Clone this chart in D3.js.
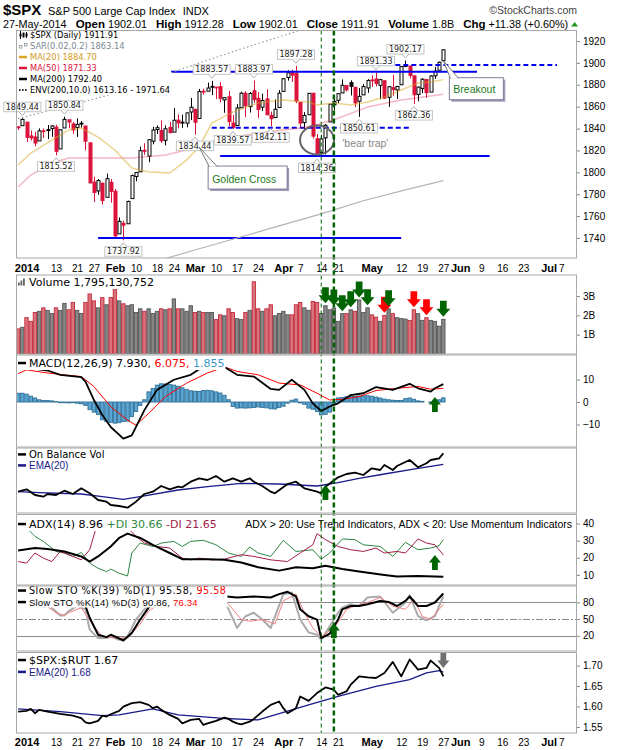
<!DOCTYPE html>
<html>
<head>
<meta charset="utf-8">
<title>$SPX Daily</title>
<script src="https://cdn.jsdelivr.net/npm/d3@7"></script>
<style>
  body { margin: 0; background: #fff; }
  svg { display: block; font-family: "Liberation Sans", Arial, sans-serif; }
</style>
</head>
<body>
<svg id="chart" width="620" height="750"></svg>
<script>
// ---------- data ----------
const holidays = ['01-01', '01-20', '02-17', '04-18', '05-26', '07-04'];
const prevClose = 1841.40;

// daily candles, 30-Dec-2013 .. 27-May-2014
const opens = [1841.47, 1842.61,
  1845.86, 1833.21, 1832.31, 1828.71, 1837.90, 1839.00, 1840.06, 1841.26, 1821.36, 1840.52, 1847.99, 1844.23, 1841.05, 1844.71, 1842.29, 1826.96, 1791.03, 1783.00, 1790.15, 1777.17, 1790.88,
  1782.68, 1743.82, 1753.38, 1752.99, 1776.01, 1796.20, 1800.45, 1820.12, 1814.82, 1828.46, 1839.03, 1838.22, 1829.24, 1841.07, 1836.78, 1847.66, 1845.79, 1844.90, 1855.12,
  1857.68, 1849.23, 1874.05, 1874.18, 1878.52, 1877.86, 1878.26, 1866.15, 1869.06, 1845.07, 1842.81, 1858.92, 1872.25, 1860.09, 1874.53, 1867.67, 1859.48, 1867.09, 1852.11, 1850.07, 1859.16,
  1873.96, 1886.61, 1891.43, 1890.25, 1863.92, 1845.48, 1852.64, 1872.28, 1830.65, 1818.18, 1831.45, 1846.01, 1861.73, 1865.79, 1872.57, 1879.32, 1881.97, 1877.72, 1865.00, 1870.78, 1877.10,
  1884.39, 1885.30, 1879.45, 1883.69, 1868.53, 1877.39, 1875.27, 1880.03, 1896.75, 1897.13, 1888.16, 1871.19, 1876.66, 1884.88, 1873.34, 1888.19, 1893.32, 1902.01];
const highs = [1842.47, 1849.44,
  1845.86, 1838.24, 1837.16, 1840.10, 1840.02, 1843.23, 1843.15, 1843.45, 1839.26, 1850.84, 1847.99, 1846.04, 1849.31, 1846.87, 1842.29, 1826.96, 1795.98, 1793.87, 1790.15, 1798.77, 1793.88,
  1784.83, 1758.73, 1755.79, 1774.06, 1798.03, 1799.94, 1823.54, 1826.55, 1830.25, 1841.65, 1842.87, 1847.50, 1842.79, 1846.13, 1858.71, 1852.91, 1852.65, 1854.53, 1867.92,
  1857.68, 1876.23, 1876.53, 1881.94, 1883.57, 1877.87, 1882.35, 1868.38, 1874.40, 1852.44, 1862.30, 1873.76, 1874.14, 1873.49, 1883.97, 1873.34, 1871.87, 1875.92, 1855.55, 1866.63, 1875.18,
  1885.84, 1893.17, 1893.80, 1897.28, 1864.04, 1854.95, 1872.43, 1872.53, 1835.07, 1834.19, 1844.02, 1862.31, 1869.63, 1871.89, 1884.89, 1879.75, 1884.06, 1877.72, 1877.01, 1880.60, 1885.20,
  1888.59, 1891.33, 1885.51, 1883.69, 1878.83, 1889.07, 1878.57, 1897.13, 1902.17, 1897.13, 1888.16, 1878.28, 1886.00, 1884.88, 1888.80, 1896.33, 1901.26, 1912.28];
const lows = [1838.77, 1842.41,
  1827.74, 1829.13, 1823.73, 1828.71, 1831.40, 1830.38, 1832.43, 1815.52, 1821.36, 1840.52, 1840.30, 1835.23, 1832.38, 1840.88, 1820.06, 1790.29, 1772.88, 1779.49, 1770.45, 1777.17, 1772.26,
  1739.66, 1743.82, 1737.92, 1752.99, 1776.01, 1791.83, 1800.41, 1815.97, 1809.22, 1825.59, 1835.01, 1826.99, 1824.58, 1835.60, 1836.78, 1840.19, 1840.66, 1841.13, 1847.67,
  1834.44, 1849.23, 1871.11, 1874.18, 1870.56, 1867.04, 1863.88, 1854.38, 1841.86, 1839.57, 1842.81, 1858.92, 1850.35, 1854.63, 1863.46, 1849.69, 1855.96, 1852.56, 1842.11, 1850.07, 1859.16,
  1873.96, 1883.79, 1882.65, 1863.26, 1841.48, 1837.49, 1852.38, 1830.87, 1814.36, 1815.80, 1816.29, 1846.01, 1856.72, 1863.18, 1872.57, 1873.91, 1870.24, 1859.70, 1850.61, 1870.78, 1872.69,
  1878.04, 1878.50, 1866.77, 1867.72, 1859.79, 1870.05, 1867.02, 1880.03, 1896.06, 1885.77, 1862.36, 1864.82, 1872.42, 1868.14, 1873.34, 1885.39, 1893.32, 1902.01];
const closes = [1841.07, 1848.36,
  1831.98, 1831.37, 1826.77, 1837.88, 1837.49, 1838.13, 1842.37, 1819.20, 1838.88, 1848.38, 1845.89, 1838.70, 1843.80, 1844.86, 1828.46, 1790.29, 1781.56, 1792.50, 1774.20, 1794.19, 1782.59,
  1741.89, 1755.20, 1751.64, 1773.43, 1797.02, 1799.84, 1819.75, 1819.26, 1829.83, 1838.63, 1840.76, 1828.75, 1839.78, 1836.25, 1847.61, 1845.12, 1845.16, 1854.29, 1859.45,
  1845.73, 1873.91, 1873.81, 1877.03, 1878.04, 1877.17, 1867.63, 1868.20, 1846.34, 1841.13, 1858.83, 1872.25, 1860.77, 1872.01, 1866.52, 1857.44, 1865.62, 1852.56, 1849.04, 1857.62, 1872.34,
  1885.52, 1890.90, 1888.77, 1865.09, 1845.04, 1851.96, 1872.18, 1833.08, 1815.69, 1830.61, 1842.98, 1862.31, 1864.85, 1871.89, 1879.55, 1875.39, 1878.61, 1863.40, 1869.43, 1878.33, 1883.95,
  1883.68, 1881.14, 1884.66, 1867.72, 1878.21, 1875.63, 1878.48, 1896.65, 1897.45, 1888.53, 1870.85, 1877.86, 1885.08, 1872.83, 1888.03, 1892.49, 1900.53, 1911.91];
// volume, billions of shares
const volumes = [1.30, 1.38,
  1.88, 1.69, 2.15, 2.21, 2.39, 2.26, 2.10, 2.39, 2.26, 2.62, 2.29, 2.67, 2.26, 2.10, 2.67, 3.11, 2.75, 2.39, 2.92, 2.55, 2.92,
  3.37, 2.75, 2.60, 2.50, 2.55, 2.15, 2.34, 2.21, 2.34, 2.10, 2.21, 2.34, 2.29, 2.34, 2.85, 2.34, 2.34, 2.21, 2.50,
  2.15, 2.21, 2.15, 2.15, 2.15, 1.78, 2.03, 1.98, 2.34, 2.15, 1.83, 1.78, 2.15, 2.26, 3.74, 2.34, 2.21, 2.34, 2.55, 1.98, 2.10,
  2.21, 2.03, 2.03, 2.55, 2.67, 2.39, 2.26, 2.72, 2.67, 2.10, 2.50, 2.29, 2.38, 1.69, 2.09, 2.09, 2.29, 2.21, 2.80, 2.15, 2.39,
  2.03, 1.91, 1.69, 2.00, 2.34, 2.09, 1.88, 1.83, 1.81, 1.74, 2.29, 2.09, 1.74, 1.88, 1.74, 1.69, 1.44, 1.795];
// MACD histogram, one bar per session
const macdHist = [3.9, 3.9,
  3.5, 2.6, 1.8, 1.0, 0.7, 0.7, 0.5, 0.2, -0.3, -0.3, -0.4, -0.3, -0.5, -0.8, -1.5, -3.4, -4.5, -5.5, -7.9, -8.7, -9.0,
  -9.4, -9.2, -8.7, -8.5, -6.5, -4.2, -1.5, 1.0, 4.5, 6.0, 7.5, 8.1, 8.0, 7.8, 7.5, 7.0, 6.3, 5.6, 5.0,
  4.8, 4.7, 5.1, 5.2, 5.0, 4.5, 4.0, 3.0, 1.0, -2.0, -2.7, -2.6, -2.7, -2.6, -2.4, -2.2, -2.4, -2.6, -3.0, -3.1, -2.5,
  -1.9, -0.5, 0.8, 1.3, -0.4, -1.0, -2.7, -3.2, -4.2, -5.7, -5.5, -4.5, -1.2, 1.8, 2.0, 2.3, 2.5, 2.5, 2.7, 2.8, 2.8,
  2.6, 2.2, 1.8, 1.3, 1.0, 0.8, 0.7, 0.7, 1.5, 1.8, 1.2, 0.5, 0.3, 0.0, -0.4, 0.4, 1.0, 1.855];

// overlays and indicators, [session, value]
const ma20 = [['12-30', 1806.7], ['01-03', 1817.6], ['01-10', 1829.5], ['01-16', 1838.6], ['01-22', 1840.5], ['01-28', 1832.2], ['02-03', 1820.4], ['02-07', 1803.9], ['02-13', 1800.3], ['02-21', 1799.4], ['02-27', 1811.2], ['03-04', 1823.1], ['03-07', 1845.0], ['03-14', 1855.0], ['03-24', 1863.3], ['04-01', 1866.0], ['04-09', 1864.2], ['04-11', 1861.5], ['04-17', 1863.3], ['04-24', 1861.5], ['04-30', 1864.2], ['05-06', 1868.8], ['05-12', 1875.2], ['05-16', 1881.6], ['05-21', 1882.5], ['05-27', 1884.70]];
const ma50 = [['12-30', 1786.6], ['01-03', 1797.5], ['01-10', 1808.5], ['01-16', 1813.1], ['01-28', 1813.1], ['02-07', 1813.1], ['02-20', 1815.8], ['03-04', 1823.1], ['03-14', 1832.2], ['03-26', 1836.8], ['04-09', 1841.4], ['04-17', 1848.0], ['04-30', 1859.6], ['05-12', 1866.0], ['05-27', 1871.33]];
const ma200 = [['02-18', 1719], ['03-03', 1729], ['03-17', 1740], ['03-31', 1751], ['04-14', 1762], ['04-29', 1774], ['05-13', 1784], ['05-27', 1792.40]];
const envUpper = [['12-30', 1849], ['01-30', 1870], ['02-27', 1896], ['03-19', 1914], ['04-08', 1931], ['05-27', 1971.64]];
const macdLine = [['12-30', 15.8], ['01-03', 15.1], ['01-09', 14.0], ['01-14', 12.1], ['01-22', 11.1], ['01-23', 9.1], ['01-27', 0.9], ['01-29', -5.8], ['01-31', -11.1], ['02-05', -16.3], ['02-07', -14.8], ['02-12', -3.6], ['02-18', 5.4], ['02-24', 9.9], ['02-28', 12.1], ['03-05', 15.8], ['03-07', 17.5], ['03-12', 15.6], ['03-17', 12.1], ['03-21', 11.3], ['03-27', 5.8], ['03-31', 5.4], ['04-03', 9.9], ['04-08', 5.4], ['04-10', -0.6], ['04-14', -4.0], ['04-16', -2.0], ['04-21', -0.6], ['04-24', 3.1], ['04-29', 3.9], ['05-02', 6.6], ['05-08', 5.4], ['05-14', 8.1], ['05-16', 6.1], ['05-21', 4.6], ['05-22', 6.1], ['05-27', 7.930]];
const macdSignal = [['12-30', 12.6], ['01-02', 14.3], ['01-09', 12.9], ['01-22', 11.3], ['01-27', 6.9], ['01-31', -2.1], ['02-06', -8.1], ['02-10', -10.3], ['02-13', -5.1], ['02-20', 2.4], ['02-27', 8.4], ['03-06', 12.9], ['03-12', 15.6], ['03-17', 13.6], ['03-24', 12.1], ['03-31', 8.4], ['04-07', 7.6], ['04-11', 3.9], ['04-16', 0.9], ['04-22', 1.2], ['04-28', 2.4], ['05-02', 5.1], ['05-09', 6.1], ['05-16', 6.9], ['05-21', 5.7], ['05-27', 6.075]];
const obv = [['12-30', 9.15], ['01-02', 10.35], ['01-06', 7.5], ['01-08', 6.65], ['01-09', 8.0], ['01-13', 7.5], ['01-15', 9.65], ['01-17', 8.0], ['01-22', 10.85], ['01-24', 8.35], ['01-28', 5.0], ['01-30', 4.15], ['01-31', 2.5], ['02-04', 2.0], ['02-06', 1.15], ['02-10', 4.15], ['02-12', 8.0], ['02-14', 9.15], ['02-19', 12.0], ['02-21', 10.35], ['02-25', 11.65], ['02-26', 11.35], ['02-28', 14.15], ['03-04', 15.85], ['03-06', 15.0], ['03-10', 17.0], ['03-12', 14.15], ['03-14', 15.85], ['03-18', 14.15], ['03-20', 15.85], ['03-21', 14.15], ['03-25', 12.0], ['03-27', 9.15], ['03-28', 8.35], ['04-02', 13.0], ['04-04', 14.15], ['04-08', 10.85], ['04-11', 9.15], ['04-14', 8.35], ['04-15', 11.65], ['04-21', 16.35], ['04-23', 18.0], ['04-25', 18.65], ['04-29', 17.5], ['05-01', 20.85], ['05-05', 20.0], ['05-06', 22.5], ['05-08', 20.0], ['05-09', 22.0], ['05-14', 25.0], ['05-16', 21.35], ['05-20', 23.35], ['05-21', 25.0], ['05-23', 25.85], ['05-27', 28.35]];
const obvEma = [['12-30', 9.15], ['01-07', 8.65], ['01-22', 8.0], ['01-29', 6.65], ['02-05', 5.35], ['02-11', 6.65], ['02-25', 10.0], ['03-06', 11.65], ['03-18', 13.35], ['03-31', 13.0], ['04-11', 12.0], ['04-21', 13.65], ['04-28', 15.85], ['05-06', 18.0], ['05-16', 20.85], ['05-27', 22.85]];
const adx = [['12-30', 24.3], ['01-06', 25.7], ['01-09', 25.1], ['01-15', 23.7], ['01-22', 20.8], ['01-24', 17.8], ['01-28', 20.8], ['01-31', 26.6], ['02-04', 31.6], ['02-06', 34.1], ['02-11', 31.6], ['02-14', 27.6], ['02-21', 22.8], ['02-26', 19.2], ['03-06', 19.2], ['03-12', 18.8], ['03-18', 17.2], ['03-24', 14.5], ['03-31', 12.5], ['04-04', 14.5], ['04-10', 13.9], ['04-15', 15.3], ['04-22', 13.4], ['04-28', 12.0], ['05-06', 10.0], ['05-09', 9.0], ['05-16', 9.4], ['05-27', 8.96]];
const plusDI = [['12-30', 41], ['01-02', 37.5], ['01-06', 32.5], ['01-08', 29.6], ['01-13', 23.7], ['01-15', 22.8], ['01-17', 20.8], ['01-22', 23.1], ['01-24', 16.9], ['01-28', 13.9], ['01-30', 11.9], ['01-31', 13.4], ['02-04', 11.0], ['02-06', 9.4], ['02-07', 22.8], ['02-11', 28.6], ['02-14', 26.6], ['02-19', 28.6], ['02-24', 29.6], ['02-26', 26.6], ['02-28', 29.6], ['03-05', 30.2], ['03-10', 27.6], ['03-13', 22.8], ['03-18', 20.8], ['03-20', 26.3], ['03-24', 22.8], ['03-27', 20.8], ['04-01', 30.2], ['04-04', 23.7], ['04-10', 24.7], ['04-14', 19.2], ['04-16', 22.8], ['04-22', 31.0], ['04-25', 30.6], ['04-29', 27.6], ['05-05', 26.6], ['05-08', 20.8], ['05-13', 29.0], ['05-16', 24.7], ['05-21', 25.7], ['05-23', 27.1], ['05-27', 30.66]];
const minusDI = [['12-30', 17.8], ['01-02', 16.9], ['01-06', 22.8], ['01-08', 19.8], ['01-10', 17.8], ['01-14', 23.7], ['01-17', 20.8], ['01-22', 18.8], ['01-24', 24.7], ['01-28', 41.4], ['01-29', 40.4], ['01-30', 36.5], ['02-03', 38.4], ['02-04', 36.5], ['02-06', 37.5], ['02-10', 32.5], ['02-12', 28.6], ['02-18', 26.6], ['02-21', 25.7], ['02-26', 19.8], ['02-28', 18.8], ['03-04', 19.8], ['03-07', 18.8], ['03-12', 19.2], ['03-18', 21.8], ['03-21', 20.8], ['03-27', 18.8], ['04-02', 17.8], ['04-07', 22.8], ['04-10', 27.6], ['04-11', 34.1], ['04-15', 30.6], ['04-21', 26.6], ['04-24', 24.7], ['04-29', 23.7], ['05-02', 25.7], ['05-06', 22.8], ['05-09', 23.7], ['05-13', 22.8], ['05-16', 31.0], ['05-20', 28.6], ['05-22', 27.6], ['05-27', 21.65]];
const stoK39 = [['12-30', 92], ['01-06', 90], ['01-13', 88], ['01-17', 90], ['01-22', 88], ['01-23', 73.3], ['01-24', 52.2], ['01-28', 21.8], ['01-30', 17.6], ['01-31', 21.8], ['02-03', 18.7], ['02-05', 11.5], ['02-07', 24.9], ['02-11', 49.0], ['02-13', 70.4], ['02-18', 85], ['02-21', 88], ['03-03', 90], ['03-10', 92], ['03-17', 88.5], ['03-21', 90.3], ['03-27', 88.5], ['03-31', 94.5], ['04-02', 98.7], ['04-04', 90.3], ['04-07', 67.3], ['04-09', 55.0], ['04-11', 49.0], ['04-14', 15.8], ['04-16', 23.6], ['04-21', 49.0], ['04-22', 67.3], ['04-24', 73.3], ['04-28', 73.3], ['04-30', 76.4], ['05-05', 82.4], ['05-07', 80.5], ['05-09', 73.3], ['05-13', 82.4], ['05-14', 90.3], ['05-16', 73.3], ['05-20', 73.3], ['05-22', 79.5], ['05-27', 95.58]];
const stoK14 = [['12-30', 85], ['01-08', 80], ['01-10', 70.4], ['01-14', 56.4], ['01-15', 56.4], ['01-16', 64.2], ['01-21', 73.3], ['01-23', 67.3], ['01-24', 30.9], ['01-28', 15.8], ['01-30', 15.8], ['01-31', 18.7], ['02-04', 12.7], ['02-06', 18.7], ['02-10', 49.0], ['02-12', 67.3], ['02-13', 73.3], ['02-19', 86], ['02-25', 88], ['03-03', 85], ['03-07', 92], ['03-12', 80], ['03-13', 67.3], ['03-17', 34.0], ['03-19', 55.0], ['03-21', 61.2], ['03-25', 49.0], ['03-27', 34.0], ['04-01', 94.5], ['04-03', 97.6], ['04-07', 49.0], ['04-09', 26.0], ['04-11', 21.8], ['04-14', 12.7], ['04-16', 36.9], ['04-21', 61.2], ['04-22', 70.4], ['04-24', 76.4], ['04-28', 73.3], ['04-30', 88.5], ['05-05', 90.3], ['05-08', 61.2], ['05-13', 79.5], ['05-14', 92.7], ['05-16', 55.0], ['05-20', 47.8], ['05-22', 55.0], ['05-27', 90.86]];
const stoD3 = [['12-30', 82], ['01-09', 72], ['01-13', 61.2], ['01-15', 56.4], ['01-16', 61.2], ['01-22', 70.4], ['01-27', 36.9], ['01-29', 18.7], ['01-31', 17.0], ['02-04', 15.8], ['02-06', 15.8], ['02-11', 41.0], ['02-13', 64.2], ['02-19', 80], ['02-26', 87], ['03-05', 86], ['03-11', 88], ['03-13', 76.4], ['03-18', 49.0], ['03-20', 46.0], ['03-25', 49.0], ['03-28', 41.0], ['04-01', 82.4], ['04-04', 94.5], ['04-08', 61.2], ['04-10', 34.0], ['04-14', 18.7], ['04-17', 34.0], ['04-22', 55.0], ['04-23', 67.3], ['04-25', 73.3], ['04-30', 79.5], ['05-05', 88.5], ['05-08', 73.3], ['05-13', 67.3], ['05-15', 85.5], ['05-19', 55.0], ['05-21', 49.0], ['05-27', 76.34]];
const spxRut = [['12-30', 1.5877], ['01-02', 1.5893], ['01-03', 1.5942], ['01-06', 1.5836], ['01-07', 1.5918], ['01-09', 1.5877], ['01-14', 1.5820], ['01-17', 1.5778], ['01-22', 1.5714], ['01-23', 1.5615], ['01-24', 1.5590], ['01-28', 1.5648], ['01-29', 1.5778], ['01-30', 1.5754], ['01-31', 1.5812], ['02-04', 1.5893], ['02-05', 1.5999], ['02-07', 1.6083], ['02-11', 1.6107], ['02-13', 1.6041], ['02-14', 1.5960], ['02-18', 1.5999], ['02-19', 1.5918], ['02-21', 1.5795], ['02-25', 1.5697], ['02-26', 1.5590], ['02-28', 1.5672], ['03-04', 1.5697], ['03-05', 1.5550], ['03-06', 1.5590], ['03-10', 1.5648], ['03-12', 1.5729], ['03-13', 1.5697], ['03-14', 1.5631], ['03-17', 1.5590], ['03-18', 1.5566], ['03-20', 1.5631], ['03-21', 1.5697], ['03-25', 1.5877], ['03-27', 1.6041], ['03-31', 1.6123], ['04-01', 1.5960], ['04-02', 1.5836], ['04-04', 1.5960], ['04-07', 1.6245], ['04-09', 1.6139], ['04-11', 1.6328], ['04-15', 1.6466], ['04-17', 1.6410], ['04-21', 1.6287], ['04-23', 1.6368], ['04-24', 1.6533], ['04-28', 1.6737], ['04-30', 1.6713], ['05-02', 1.6697], ['05-06', 1.6820], ['05-08', 1.7090], ['05-12', 1.6737], ['05-14', 1.7148], ['05-16', 1.6902], ['05-20', 1.6943], ['05-21', 1.7123], ['05-23', 1.6943], ['05-27', 1.6735]];
const spxRutEma = [['12-30', 1.5942], ['01-14', 1.5877], ['01-29', 1.5778], ['02-04', 1.5795], ['02-14', 1.5942], ['02-25', 1.5795], ['03-11', 1.5714], ['03-24', 1.5672], ['03-28', 1.5795], ['04-09', 1.6041], ['04-21', 1.6245], ['05-02', 1.6492], ['05-14', 1.6656], ['05-20', 1.6820], ['05-23', 1.6877], ['05-27', 1.6840]];

// annotations
const peakLabels = [['12-31', 'above'], ['01-15', 'above'], ['01-13', 'below'], ['02-05', 'below'], ['03-03', 'below'], ['03-07', 'above'], ['03-14', 'below'], ['03-21', 'above'], ['03-27', 'below'], ['04-04', 'above'], ['04-11', 'below'], ['04-28', 'below'], ['05-02', 'above'], ['05-13', 'above'], ['05-15', 'below']];
const trendLines = [
  { from: '02-10', to: '06-06', value: 1892, dashed: false },
  { from: '04-29', to: '07-03', value: 1898, dashed: true },
  { from: '03-07', to: '05-14', value: 1840.7, dashed: true },
  { from: '03-11', to: '06-11', value: 1815, dashed: false },
  { from: '01-28', to: '05-12', value: 1740, dashed: false },
];
const markerDays = [{ day: '04-14', width: 1, dash: '4,3' }, { day: '04-17', width: 2.5, dash: '5,3' }];
const volumeArrows = [['04-15', 'g'], ['04-17', 'g'], ['04-22', 'g'], ['04-24', 'g'], ['04-28', 'g'], ['04-30', 'g'], ['05-06', 'r'], ['05-07', 'g'], ['05-15', 'r'], ['05-20', 'r'], ['05-27', 'g']];
const panelArrows = [
  { panel: 'macd', day: '05-22', value: 2.2, dir: 'up', color: '#006400' },
  { panel: 'obv', day: '04-15', value: 12.5, dir: 'up', color: '#006400' },
  { panel: 'adx', day: '05-22', value: 21.6, dir: 'up', color: '#006400' },
  { panel: 'sto', day: '04-17', value: 42.8, dir: 'up', color: '#006400' },
  { panel: 'rut', day: '05-27', value: 1.694, dir: 'down', color: '#707070' },
];

// axis ticks
const xTickDays = ['01-02', '01-13', '01-21', '01-27', '02-03', '02-10', '02-18', '02-24', '03-03', '03-10', '03-17', '03-24', '04-01', '04-07', '04-14', '04-21', '05-01', '05-12', '05-19', '05-27', '06-02', '06-09', '06-16', '06-23', '07-01', '07-07'];
const xTickLabels = ['2014', '13', '21', '27', 'Feb', '10', '18', '24', 'Mar', '10', '17', '24', 'Apr', '7', '14', '21', 'May', '12', '19', '27', 'Jun', '9', '16', '23', 'Jul', '7'];
const priceTicks = [1740, 1760, 1780, 1800, 1820, 1840, 1860, 1880, 1900, 1920];
const volumeTicks = [1, 2, 3];
const macdTicks = [-10, 0, 10];
const adxTicks = [10, 20, 30, 40];
const stoTicks = [20, 50, 80];
const rutTicks = [1.55, 1.60, 1.65, 1.70];

// ---------- layout ----------
const svg = d3.select('#chart');
const last = closes.length - 1;
const fmt2 = d3.format('.2f');
const toKey = d3.utcFormat('%m-%d');
const sessions = d3.utcDays(new Date(Date.UTC(2013, 11, 30)), new Date(Date.UTC(2014, 6, 12)))
  .filter(d => d.getUTCDay() % 6 !== 0)
  .map(toKey)
  .filter(k => !holidays.includes(k));
const dayIndex = new Map(sessions.map((k, i) => [k, i]));

const left = 16;
const right = 577;
const x = d3.scaleLinear().domain([-0.5, 132.75]).range([left, right]);
const xd = k => x(dayIndex.get(k));
const crisp = v => Math.round(v) + 0.5;

const panels = {
  price: { top: 30.5, bottom: 258, domain: [1721.7, 1929.6] },
  volume: { top: 275, bottom: 354, domain: [0, 4.09] },
  macd: { top: 355, bottom: 447, domain: [-20, 20.9] },
  obv: { top: 448, bottom: 513, domain: [-1.5, 31] },
  adx: { top: 514.5, bottom: 585, domain: [4.1, 45.3] },
  sto: { top: 586, bottom: 651, domain: [-7.3, 109.1] },
  rut: { top: 652.5, bottom: 733, domain: [1.5353, 1.732] },
};
const y = {};
const layer = {};
const defs = svg.append('defs');
Object.entries(panels).forEach(([name, p]) => {
  y[name] = d3.scaleLinear().domain(p.domain).range([p.bottom, p.top]);
  defs.append('clipPath').attr('id', `clip-${name}`)
    .append('rect').attr('x', left).attr('y', p.top).attr('width', right - left).attr('height', p.bottom - p.top);
  layer[name] = svg.append('g');
});
const marksOf = name => layer[name].append('g').attr('clip-path', `url(#clip-${name})`);

const line = (name) => d3.line().x(d => xd(d[0])).y(d => y[name](d[1]));
const drawLine = (name, data, color, width, extra) => {
  const p = marksOf(name).append('path').datum(data)
    .attr('d', line(name)).attr('fill', 'none')
    .attr('stroke', color).attr('stroke-width', width).attr('stroke-linejoin', 'round');
  if (extra) extra(p);
  return p;
};

// ---------- header ----------
const head = svg.append('g');
head.append('text').attr('x', 3).attr('y', 15).attr('font-size', 15).attr('font-weight', 'bold').text('$SPX');
const nameT = head.append('text').attr('x', 48).attr('y', 14.5).attr('font-size', 11).text('S&P 500 Large Cap Index');
head.append('text').attr('x', 48 + nameT.node().getComputedTextLength() + 7).attr('y', 14.5).attr('font-size', 11).text('INDX');
head.append('text').attr('x', right).attr('y', 14).attr('text-anchor', 'end').attr('font-size', 10.5).attr('fill', '#444').text('\u00a9StockCharts.com');

const chg = closes[last] - closes[last - 1];
const infoParts = [
  ['27-May-2014', false, 0],
  ['Open', true, 9], [fmt2(opens[last]), false, 3],
  ['High', true, 9], [fmt2(highs[last]), false, 3],
  ['Low', true, 9], [fmt2(lows[last]), false, 3],
  ['Close', true, 9], [fmt2(closes[last]), false, 3],
  ['Volume', true, 9], [volumes[last].toFixed(1) + 'B', false, 3],
  ['Chg', true, 9], [`+${fmt2(chg)} (+${fmt2(chg / closes[last - 1] * 100)}%)`, false, 3],
];
let cursor = 3;
infoParts.forEach(([s, bold, gap]) => {
  cursor += gap;
  const t = head.append('text').attr('x', cursor).attr('y', 27.5)
    .attr('font-size', bold ? 11.5 : 10.8).attr('font-weight', bold ? 'bold' : null).text(s);
  cursor += t.node().getComputedTextLength();
});
head.append('path').attr('d', `M${cursor + 3},26.5L${cursor + 6.5},22L${cursor + 10},26.5Z`).attr('fill', '#1f9a1f');

// ---------- legends ----------
function drawIcon(g, kind, color, x0, yc) {
  if (kind === 'line') {
    g.append('line').attr('x1', x0).attr('x2', x0 + 8).attr('y1', yc).attr('y2', yc)
      .attr('stroke', color).attr('stroke-width', 2.5);
  } else if (kind === 'dots') {
    [0, 3, 6].forEach(d => g.append('rect').attr('x', x0 + d).attr('y', yc - 0.8).attr('width', 1.6).attr('height', 1.6).attr('fill', color));
  } else if (kind === 'sar') {
    [0, 5].forEach(d => g.append('rect').attr('x', x0 + d + 0.5).attr('y', yc - (d ? 2.5 : 0.5)).attr('width', 2.5).attr('height', 2.5)
      .attr('fill', '#fff').attr('stroke', color).attr('stroke-width', 0.8));
  } else if (kind === 'candle') {
    [[0.5, 4, 3], [3.5, 2, 5], [6.5, 3, 3]].forEach(([dx, hh, bh]) => {
      g.append('line').attr('x1', x0 + dx + 1).attr('x2', x0 + dx + 1).attr('y1', yc - hh).attr('y2', yc + hh).attr('stroke', color);
      g.append('rect').attr('x', x0 + dx).attr('y', yc - bh / 2).attr('width', 2).attr('height', bh).attr('fill', color);
    });
  } else if (kind === 'bars') {
    [[0, 3], [2.5, 5], [5, 7]].forEach(([dx, h]) => g.append('rect').attr('x', x0 + dx).attr('y', yc + 3.5 - h)
      .attr('width', 1.8).attr('height', h).attr('fill', color));
  }
}

function addLegend(parent, x0, lines) {
  const g = parent.append('g');
  const bg = g.append('rect').attr('fill', '#fff');
  const content = g.append('g');
  lines.forEach(l => {
    drawIcon(content.append('g'), l.icon, l.iconColor, x0, l.y - l.size * 0.36);
    const t = content.append('text').attr('x', x0 + 11).attr('y', l.y)
      .attr('font-family', l.family).attr('font-size', l.size)
      .attr('letter-spacing', l.spacing || null);
    l.parts.forEach(([s, c]) => t.append('tspan').attr('fill', c).text(s));
  });
  const b = content.node().getBBox();
  bg.attr('x', b.x - 1).attr('y', b.y).attr('width', b.width + 2).attr('height', b.height);
}
const DJ = '"DejaVu Sans", Verdana, sans-serif';
const LS = '"Liberation Sans", Arial, sans-serif';
const lastOf = s => s[s.length - 1][1];

// ---------- price panel ----------
const gPrice = marksOf('price');
drawLine('price', envUpper, '#9a9a9a', 1.2, p => p.attr('stroke-dasharray', '1.5,2.5'));
drawLine('price', ma200, '#b4b4b4', 1.2);
drawLine('price', ma50, '#dc143c', 1.5, p => p.attr('stroke-opacity', 0.3));
drawLine('price', ma20, '#daa520', 1.5, p => p.attr('stroke-opacity', 0.5));

const candles = closes.map((c, k) => ({ k, o: opens[k], h: highs[k], l: lows[k], c, prev: k ? closes[k - 1] : prevClose }));
const cg = gPrice.selectAll('g.candle').data(candles).enter().append('g').attr('class', 'candle');
const candleColor = d => (d.c >= d.prev ? '#000' : '#dc143c');
cg.append('line')
  .attr('x1', d => crisp(x(d.k))).attr('x2', d => crisp(x(d.k)))
  .attr('y1', d => y.price(d.h)).attr('y2', d => y.price(d.l))
  .attr('stroke', candleColor);
cg.append('rect')
  .attr('x', d => crisp(x(d.k)) - 1.5).attr('width', 3)
  .attr('y', d => y.price(Math.max(d.o, d.c)))
  .attr('height', d => Math.max(0.8, Math.abs(y.price(d.o) - y.price(d.c))))
  .attr('fill', d => (d.c < d.o ? candleColor(d) : '#fff'))
  .attr('stroke', candleColor);

trendLines.forEach(t => {
  gPrice.append('line')
    .attr('x1', xd(t.from)).attr('x2', xd(t.to))
    .attr('y1', y.price(t.value)).attr('y2', y.price(t.value))
    .attr('stroke', '#0000ee').attr('stroke-width', 2)
    .attr('stroke-dasharray', t.dashed ? '5,3' : null);
});

const gLabels = layer.price.append('g');
peakLabels.forEach(([day, pos]) => {
  const i = dayIndex.get(day);
  const v = pos === 'above' ? highs[i] : lows[i];
  const cy = y.price(v);
  const g = gLabels.append('g');
  const t = g.append('text').attr('text-anchor', 'middle')
    .attr('font-family', DJ).attr('font-size', 8).attr('fill', '#222').text(fmt2(v));
  const w = t.node().getComputedTextLength() + 4;
  const h = 9.5;
  const cx = Math.max(x(i), 3 + w / 2);
  t.attr('x', cx);
  const top = pos === 'above' ? cy - 6.5 - h : cy + 6.5;
  t.attr('y', top + 7.6);
  const edge = pos === 'above' ? top + h : top;
  const tip = pos === 'above' ? edge + 4 : edge - 4;
  g.insert('rect', 'text').attr('x', cx - w / 2).attr('y', top).attr('width', w).attr('height', h)
    .attr('fill', '#fff').attr('stroke', '#c4c4c4');
  g.insert('path', 'text').attr('d', `M${x(i) - 3.5},${edge}L${x(i)},${tip}L${x(i) + 3.5},${edge}`)
    .attr('fill', '#fff').attr('stroke', '#b0b0b0');
});

// bear trap
gPrice.append('ellipse').attr('cx', xd('04-11')).attr('cy', y.price(1829.5)).attr('rx', 17).attr('ry', 14.5)
  .attr('fill', 'none').attr('stroke', '#666').attr('stroke-width', 2);
gPrice.append('text').attr('x', xd('04-22')).attr('y', y.price(1823)).attr('font-size', 10.5).attr('fill', '#888').text("'bear trap'");

function callout(day, value, dx, dy, w, h, label) {
  const tx = xd(day);
  const ty = y.price(value);
  const bx = tx + dx;
  const by = ty + dy;
  const g = layer.price.append('g');
  g.append('rect').attr('x', bx + 2).attr('y', by + 2).attr('width', w).attr('height', h).attr('fill', '#9c9cb8');
  g.append('rect').attr('x', bx).attr('y', by).attr('width', w).attr('height', h).attr('fill', '#fff').attr('stroke', '#7c7c9c');
  g.append('path').attr('d', `M${bx + 1},${by + 0.5}L${tx},${ty}L${bx + 9},${by + 0.5}`).attr('fill', '#fff').attr('stroke', '#777');
  g.append('text').attr('x', bx + 4).attr('y', by + h - 6.5).attr('font-size', 10.5).attr('fill', '#1b7a1b').text(label);
}
callout('03-04', 1823.1, 9, 19, 79, 23, 'Golden Cross');
callout('05-27', lows[last], 6, 17, 54, 22, 'Breakout');

addLegend(layer.price, 19, [
  { y: 38, size: 8.3, family: DJ, icon: 'candle', iconColor: '#000', parts: [[`$SPX (Daily) ${fmt2(closes[last])}`, '#000']] },
  { y: 49, size: 8.3, family: DJ, icon: 'sar', iconColor: '#8a96a3', parts: [['SAR(0.02,0.2) 1863.14', '#7b8794']] },
  { y: 60, size: 8.3, family: DJ, icon: 'line', iconColor: '#daa520', parts: [[`MA(20) ${fmt2(lastOf(ma20))}`, '#d4991a']] },
  { y: 71, size: 8.3, family: DJ, icon: 'line', iconColor: '#dc143c', parts: [[`MA(50) ${fmt2(lastOf(ma50))}`, '#dc143c']] },
  { y: 82, size: 8.3, family: DJ, icon: 'line', iconColor: '#000', parts: [[`MA(200) ${fmt2(lastOf(ma200))}`, '#000']] },
  { y: 93, size: 8.3, family: DJ, icon: 'dots', iconColor: '#000', parts: [[`ENV(200,10.0) 1613.16 - ${fmt2(lastOf(envUpper))}`, '#000']] },
]);

// ---------- volume ----------
const gVol = marksOf('volume');
gVol.selectAll('rect').data(candles).enter().append('rect')
  .attr('x', d => x(d.k) - 1.7).attr('width', 3.4)
  .attr('y', d => y.volume(volumes[d.k]))
  .attr('height', d => y.volume(0) - y.volume(volumes[d.k]))
  .attr('fill', d => (d.c >= d.prev ? '#878787' : '#d9747c'))
  .attr('stroke', d => (d.c >= d.prev ? '#555' : '#c42a3c')).attr('stroke-width', 0.9);
addLegend(layer.volume, 18, [
  { y: 286, size: 11, family: DJ, icon: 'bars', iconColor: '#666', parts: [[`Volume ${d3.format(',')(1795130752)}`, '#000']] },
]);

// ---------- MACD ----------
const gMacd = marksOf('macd');
gMacd.selectAll('rect').data(macdHist).enter().append('rect')
  .attr('x', (d, k) => x(k) - 1.7).attr('width', 3.4)
  .attr('y', d => y.macd(Math.max(0, d)))
  .attr('height', d => Math.abs(y.macd(d) - y.macd(0)))
  .attr('fill', '#5aa6d4').attr('stroke', '#2f6f96').attr('stroke-width', 0.9);
drawLine('macd', macdSignal, '#ff0000', 1);
drawLine('macd', macdLine, '#000', 1.8);
addLegend(layer.macd, 18, [
  { y: 367, size: 11, family: DJ, icon: 'line', iconColor: '#000', parts: [[`MACD(12,26,9) ${lastOf(macdLine).toFixed(3)}, `, '#000'], [`${lastOf(macdSignal).toFixed(3)}, `, '#ff0000'], [macdHist[last].toFixed(3), '#3a9ad0']] },
]);

// ---------- OBV ----------
drawLine('obv', obvEma, '#1a1a8a', 1.3);
drawLine('obv', obv, '#000', 1.8);
addLegend(layer.obv, 18, [
  { y: 458, size: 10, family: DJ, icon: 'line', iconColor: '#000', parts: [['On Balance Vol', '#000']] },
  { y: 469, size: 10, family: LS, icon: 'line', iconColor: '#1a1a8a', parts: [['EMA(20)', '#1a1a8a']] },
]);

// ---------- ADX ----------
drawLine('adx', plusDI, '#2e8540', 1);
drawLine('adx', minusDI, '#a31d48', 1);
drawLine('adx', adx, '#000', 2);
addLegend(layer.adx, 18, [
  { y: 528, size: 11, family: DJ, icon: 'line', iconColor: '#000', parts: [[`ADX(14) ${fmt2(lastOf(adx))} `, '#000'], [`+DI ${fmt2(lastOf(plusDI))} `, '#2e8540'], [`-DI ${fmt2(lastOf(minusDI))}`, '#a31d48']] },
]);
const noteG = layer.adx.append('g');
const note = noteG.append('text').attr('x', 572).attr('y', 528).attr('text-anchor', 'end')
  .attr('font-size', 10.5).text('ADX > 20: Use Trend Indicators, ADX < 20: Use Momentum Indicators');
const nb = note.node().getBBox();
noteG.insert('rect', 'text').attr('x', nb.x - 1).attr('y', nb.y).attr('width', nb.width + 2).attr('height', nb.height).attr('fill', '#fff');

// ---------- Slow STO ----------
const gSto = marksOf('sto');
stoTicks.forEach(v => {
  gSto.append('line').attr('x1', left).attr('x2', right).attr('y1', crisp(y.sto(v))).attr('y2', crisp(y.sto(v)))
    .attr('stroke', '#8a8a8a').attr('stroke-dasharray', v === 50 ? '7,2,2,2' : null);
});
drawLine('sto', stoK14, '#ababab', 2);
drawLine('sto', stoD3, '#f08080', 1);
drawLine('sto', stoK39, '#000', 2);
addLegend(layer.sto, 18, [
  { y: 594, size: 9.6, spacing: 0.5, family: DJ, icon: 'line', iconColor: '#000', parts: [[`Slow STO %K(39) %D(1) ${fmt2(lastOf(stoK39))}, `, '#000'], [fmt2(lastOf(stoK39)), '#ff0000']] },
  { y: 605.5, size: 9.5, spacing: 0.2, family: LS, icon: 'line', iconColor: '#000', parts: [[`Slow STO %K(14) %D(3) ${fmt2(lastOf(stoK14))}, `, '#000'], [fmt2(lastOf(stoD3)), '#ff0000']] },
]);

// ---------- $SPX:$RUT ----------
drawLine('rut', spxRutEma, '#1a1a8a', 1.3);
drawLine('rut', spxRut, '#000', 1.8);
addLegend(layer.rut, 18, [
  { y: 664, size: 11, family: DJ, icon: 'line', iconColor: '#000', parts: [[`$SPX:$RUT ${lastOf(spxRut).toFixed(2)}`, '#000']] },
  { y: 675.5, size: 10, family: LS, icon: 'line', iconColor: '#1a1a8a', parts: [[`EMA(20) ${lastOf(spxRutEma).toFixed(2)}`, '#1a1a8a']] },
]);

// ---------- axes ----------
function rightAxis(name, values, fmt) {
  const g = svg.append('g').attr('transform', `translate(${right},0)`)
    .call(d3.axisRight(y[name]).tickValues(values).tickFormat(fmt).tickSize(3).tickPadding(3));
  g.select('.domain').remove();
  g.attr('font-family', LS).attr('font-size', 10);
  g.selectAll('line').attr('stroke', '#888');
}
rightAxis('price', priceTicks, d3.format('d'));
rightAxis('volume', volumeTicks, d => `${d}B`);
rightAxis('macd', macdTicks, d3.format('d'));
rightAxis('adx', adxTicks, d3.format('d'));
rightAxis('sto', stoTicks, d3.format('d'));
rightAxis('rut', rutTicks, d3.format('.2f'));

[272, 746].forEach(base => {
  const g = svg.append('g').attr('transform', `translate(0,${base})`)
    .call(d3.axisBottom(x).tickValues(xTickDays.map(k => dayIndex.get(k))).tickFormat((d, i) => xTickLabels[i]).tickSize(0).tickPadding(0));
  g.select('.domain').remove();
  g.attr('font-family', LS);
  g.selectAll('text').attr('y', 0).attr('dy', 0)
    .attr('font-size', (d, i) => (/^\d{1,2}$/.test(xTickLabels[i]) ? 10 : 11))
    .attr('font-weight', (d, i) => (/^\d{1,2}$/.test(xTickLabels[i]) ? null : 'bold'));
});

// ---------- marker lines, arrows, frames ----------
markerDays.forEach(m => {
  svg.append('line').attr('x1', xd(m.day)).attr('x2', xd(m.day)).attr('y1', panels.price.top).attr('y2', panels.rut.bottom)
    .attr('stroke', '#006400').attr('stroke-width', m.width).attr('stroke-dasharray', m.dash);
});

function arrow(cx, tipY, dir, w, h, color) {
  const s = dir === 'down' ? -1 : 1;
  const hw = w / 2;
  const sw = w * 0.24;
  const hh = h * 0.5;
  const pts = [[cx, tipY], [cx + hw, tipY + s * hh], [cx + sw, tipY + s * hh], [cx + sw, tipY + s * h],
    [cx - sw, tipY + s * h], [cx - sw, tipY + s * hh], [cx - hw, tipY + s * hh]];
  svg.append('polygon').attr('points', pts.map(p => p.join(',')).join(' ')).attr('fill', color);
}
volumeArrows.forEach(([day, c]) => {
  arrow(xd(day), y.volume(volumes[dayIndex.get(day)]) - 2.5, 'down', 14, 16, c === 'g' ? '#006400' : '#ff0000');
});
panelArrows.forEach(a => arrow(xd(a.day), y[a.panel](a.value), a.dir, 12, 15, a.color));

Object.values(panels).forEach(p => {
  svg.append('rect').attr('x', left + 0.5).attr('y', p.top).attr('width', right - left - 1).attr('height', p.bottom - p.top)
    .attr('fill', 'none').attr('stroke', '#a8a8a8');
});
</script>
</body>
</html>
